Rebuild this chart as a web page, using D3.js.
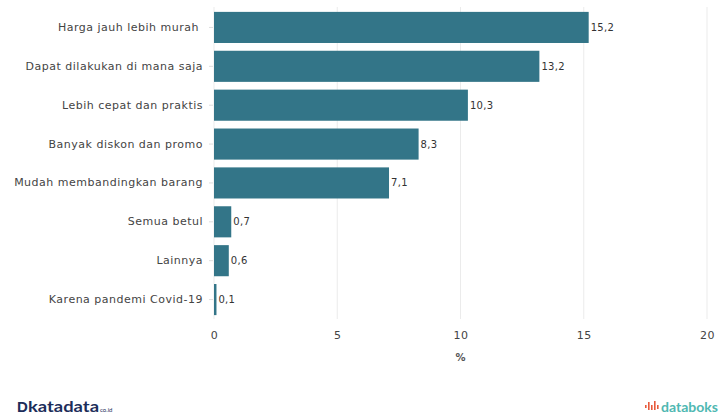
<!DOCTYPE html>
<html><head><meta charset="utf-8">
<script src="https://cdn.jsdelivr.net/npm/d3@7"></script>
<style>body{margin:0;background:#fff;} svg{display:block;font-family:"DejaVu Sans",Verdana,sans-serif;} text{white-space:pre;}</style>
</head><body>
<svg id="c" width="723" height="416"></svg>
<script>
const categories = ["Harga jauh lebih murah ","Dapat dilakukan di mana saja","Lebih cepat dan praktis","Banyak diskon dan promo","Mudah membandingkan barang","Semua betul","Lainnya","Karena pandemi Covid-19"];
const values = [15.2,13.2,10.3,8.3,7.1,0.7,0.6,0.1];
const xTicks = [0,5,10,15,20];
const axisTitle = "%";

(function(){
const svg = d3.select("#c");
const mLeft = 214, mRight = 707, mTop = 8, mBottom = 319;
const x = d3.scaleLinear().domain([0,20]).range([mLeft,mRight]);
const y = d3.scaleBand().domain(categories).range([mTop,mBottom]).paddingInner(0.2).paddingOuter(0.1);

svg.append("g").selectAll("line").data(xTicks).join("line")
  .attr("x1",d=>x(d)).attr("x2",d=>x(d)).attr("y1",mTop-1).attr("y2",mBottom)
  .attr("stroke","#ebebeb").attr("stroke-width",1);

svg.append("g").selectAll("rect").data(values).join("rect")
  .attr("x",x(0)).attr("y",(d,i)=>y(categories[i]))
  .attr("width",d=>x(d)-x(0)).attr("height",y.bandwidth())
  .attr("fill","#337588");

svg.append("g").selectAll("text").data(values).join("text")
  .attr("x",d=>x(d)+2).attr("y",(d,i)=>y(categories[i])+y.bandwidth()/2)
  .attr("dy","0.35em").attr("font-size",10).attr("fill","#333").attr("letter-spacing","0.3px")
  .text(d=>d.toFixed(1).replace(".",","));

const ya = svg.append("g").attr("transform",`translate(${mLeft-1},0)`)
  .call(d3.axisLeft(y).tickSize(4).tickPadding(6));
ya.select(".domain").remove();
ya.selectAll(".tick line").attr("stroke","#ddd");
ya.selectAll(".tick text").attr("font-size",11).attr("fill","#444").attr("letter-spacing","0.5px")
  .attr("font-family","DejaVu Sans, Verdana, sans-serif").style("white-space","pre");

const xa = svg.append("g").attr("transform",`translate(0,${mBottom})`)
  .call(d3.axisBottom(x).tickValues(xTicks).tickSize(0).tickPadding(12));
xa.select(".domain").remove();
xa.selectAll(".tick text").attr("font-size",11).attr("fill","#444").attr("letter-spacing","0.5px").attr("font-family","DejaVu Sans, Verdana, sans-serif");

svg.append("text").attr("x",(mLeft+mRight)/2).attr("y",361).attr("text-anchor","middle")
  .attr("font-size",10).attr("font-weight","bold").attr("fill","#555").text(axisTitle);

const kg = svg.append("g");
kg.append("text").attr("x",17).attr("y",412).attr("font-size",15).attr("font-weight","bold").attr("fill","#1c2d5a").attr("font-family","Arial, Liberation Sans, sans-serif").text("D");
kg.append("text").attr("x",28).attr("y",412).attr("font-size",15).attr("font-weight","bold").attr("fill","#1c2d5a")
  .attr("textLength",71).attr("lengthAdjust","spacingAndGlyphs").attr("font-family","Lato, Arial, sans-serif").text("katadata");
kg.append("text").attr("x",100).attr("y",412).attr("font-size",6).attr("fill","#1c2d5a").attr("font-family","Lato, Arial, sans-serif").text("co.id");

const dg = svg.append("g");
[[645,405,3],[648,402,8],[651,405,5],[654,401,9],[657,405,4]].forEach(([px,py,h])=>{
  dg.append("rect").attr("x",px).attr("y",py).attr("width",1.6).attr("height",h).attr("fill","#e85a3c");
});
dg.append("text").attr("x",661).attr("y",412).attr("font-size",14).attr("font-weight","bold").attr("fill","#4fb8b2")
  .attr("textLength",57).attr("lengthAdjust","spacingAndGlyphs").attr("font-family","Lato, Arial, sans-serif").text("databoks");
})();
</script>
</body></html>
